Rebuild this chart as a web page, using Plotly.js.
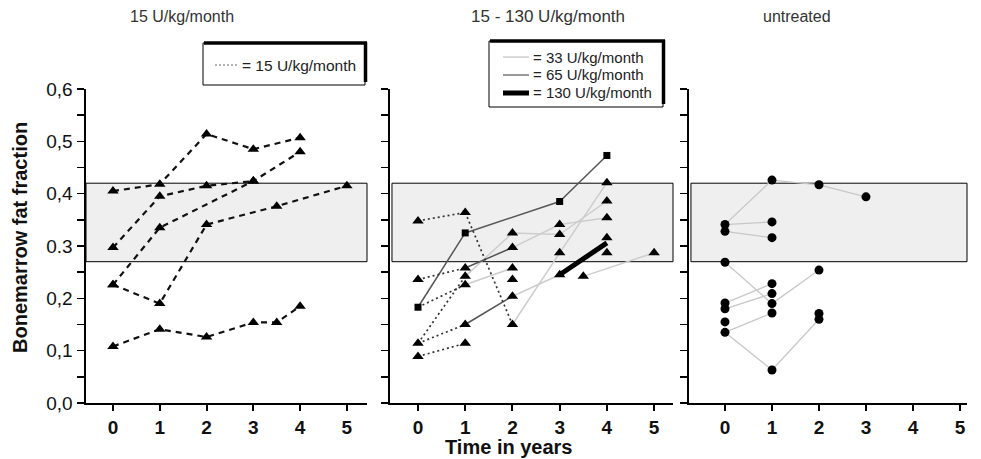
<!DOCTYPE html>
<html>
<head>
<meta charset="utf-8">
<script src="https://cdn.plot.ly/plotly-3.0.1.min.js"></script>
<style>html,body{margin:0;padding:0;background:#fff;}#chart{width:981px;height:459px;}</style>
</head>
<body>
<div id="chart"></div>
<script>
// ---------- DATA ----------
const panelTitles = ["15 U/kg/month", "15 - 130 U/kg/month", "untreated"];
const yTickVals = [0, 0.05, 0.1, 0.15, 0.2, 0.25, 0.3, 0.35, 0.4, 0.45, 0.5, 0.55, 0.6];
const yTickText = ["0,0", "", "0,1", "", "0,2", "", "0.3", "", "0,4", "", "0,5", "", "0,6"];
const xTickVals = [0, 1, 2, 3, 4, 5];
const normalBand = [0.27, 0.42];

// Panel 1: 15 U/kg/month (triangles, dashed)
const p1A_x = [0, 1, 2, 3, 4],        p1A_y = [0.405, 0.418, 0.514, 0.485, 0.507];
const p1B_x = [0, 1, 2, 3],           p1B_y = [0.297, 0.395, 0.415, 0.424];
const p1C_x = [0, 1, 3, 4],           p1C_y = [0.226, 0.335, 0.424, 0.480];
const p1D_x = [0, 1, 2, 3.5, 5],      p1D_y = [0.226, 0.190, 0.341, 0.376, 0.415];
const p1E_x = [0, 1, 2, 3, 3.5, 4],   p1E_y = [0.108, 0.141, 0.126, 0.154, 0.154, 0.185];

// Panel 2: 15 - 130 U/kg/month, dose per segment
const p2P1_x = [0, 1, 2, 3, 4], p2P1_y = [0.348, 0.364, 0.150, 0.287, 0.421], p2P1_dose = [15, 15, 33, 33];
const p2P2_x = [0, 1, 3, 4],    p2P2_y = [0.183, 0.325, 0.385, 0.473],        p2P2_dose = [65, 65, 65];
const p2P3_x = [0, 1, 2, 3, 4], p2P3_y = [0.236, 0.258, 0.297, 0.341, 0.354], p2P3_dose = [15, 65, 33, 33];
const p2P4_x = [0, 1, 2, 3, 4], p2P4_y = [0.114, 0.242, 0.325, 0.322, 0.386], p2P4_dose = [15, 33, 33, 33];
const p2P5_x = [0, 1, 2, 3, 4], p2P5_y = [0.114, 0.150, 0.204, 0.245, 0.306], p2P5_dose = [15, 65, 33, 130];
const p2P6_x = [0, 1],          p2P6_y = [0.089, 0.114],                      p2P6_dose = [15];
const p2P7_x = [0, 1, 2],       p2P7_y = [0.183, 0.226, 0.258],               p2P7_dose = [15, 33];
const p2P8_x = [3.5, 5],        p2P8_y = [0.242, 0.287],                      p2P8_dose = [33];
// Panel 2 markers
const p2Tri_x = [0, 0, 0, 0,  1, 1, 1, 1, 1, 1,  2, 2, 2, 2, 2, 2,  3, 3, 3, 3,  3.5,  4, 4, 4, 4, 4,  5];
const p2Tri_y = [0.348, 0.236, 0.114, 0.089,
                 0.364, 0.258, 0.242, 0.226, 0.150, 0.114,
                 0.325, 0.297, 0.258, 0.236, 0.204, 0.150,
                 0.341, 0.322, 0.287, 0.245,
                 0.242,
                 0.421, 0.386, 0.354, 0.316, 0.287,
                 0.287];
const p2Sq_x = [0, 1, 3, 4], p2Sq_y = [0.183, 0.325, 0.385, 0.473];

// Panel 3: untreated (circles)
const p3U1_x = [0, 1, 2, 3], p3U1_y = [0.341, 0.426, 0.417, 0.394];
const p3U2_x = [0, 1],       p3U2_y = [0.341, 0.346];
const p3U3_x = [0, 1],       p3U3_y = [0.328, 0.316];
const p3U4_x = [0, 1, 2],    p3U4_y = [0.269, 0.190, 0.254];
const p3U5_x = [0, 1],       p3U5_y = [0.191, 0.228];
const p3U6_x = [0, 1],       p3U6_y = [0.180, 0.209];
const p3U7_x = [0, 1],       p3U7_y = [0.135, 0.172];
const p3U8_x = [0, 1, 2],    p3U8_y = [0.135, 0.063, 0.160];
const p3Dot_x = [0, 0, 0, 0, 0, 0, 0,  1, 1, 1, 1, 1, 1, 1, 1,  2, 2, 2, 2,  3];
const p3Dot_y = [0.341, 0.328, 0.269, 0.191, 0.180, 0.155, 0.135,
                 0.426, 0.346, 0.316, 0.228, 0.209, 0.190, 0.172, 0.063,
                 0.417, 0.254, 0.171, 0.160,
                 0.394];

const legend1Labels = ["= 15 U/kg/month"];
const legend2Labels = ["= 33 U/kg/month", "= 65 U/kg/month", "= 130 U/kg/month"];

// ---------- BUILD ----------
const W = 981, H = 459;
const px = v => v / W;
const py = v => 1 - v / H;
const FONT = "Liberation Sans, Arial, sans-serif";

const traces = [];
const tri = {symbol: "triangle-up", size: 10, color: "#000"};

[[p1A_x, p1A_y], [p1B_x, p1B_y], [p1C_x, p1C_y], [p1D_x, p1D_y], [p1E_x, p1E_y]].forEach(s => {
  traces.push({x: s[0], y: s[1], xaxis: "x", yaxis: "y", type: "scatter", mode: "lines+markers",
    line: {color: "#111", width: 2.2, dash: "6px,5px"}, marker: tri, cliponaxis: false});
});

const doseStyle = {
  15:  {color: "#333", width: 1.7, dash: "2px,3px"},
  33:  {color: "#cdcdcd", width: 1.5, dash: "solid"},
  65:  {color: "#555", width: 1.5, dash: "solid"},
  130: {color: "#000", width: 5, dash: "solid"}
};
const segs = {15: {x: [], y: []}, 33: {x: [], y: []}, 65: {x: [], y: []}, 130: {x: [], y: []}};
[[p2P1_x, p2P1_y, p2P1_dose], [p2P2_x, p2P2_y, p2P2_dose], [p2P3_x, p2P3_y, p2P3_dose],
 [p2P4_x, p2P4_y, p2P4_dose], [p2P5_x, p2P5_y, p2P5_dose], [p2P6_x, p2P6_y, p2P6_dose],
 [p2P7_x, p2P7_y, p2P7_dose], [p2P8_x, p2P8_y, p2P8_dose]].forEach(p => {
  for (let i = 0; i < p[2].length; i++) {
    const g = segs[p[2][i]];
    g.x.push(p[0][i], p[0][i + 1], null);
    g.y.push(p[1][i], p[1][i + 1], null);
  }
});
[33, 65, 15, 130].forEach(d => {
  traces.push({x: segs[d].x, y: segs[d].y, xaxis: "x2", yaxis: "y2", type: "scatter", mode: "lines",
    line: doseStyle[d], connectgaps: false});
});
traces.push({x: p2Tri_x, y: p2Tri_y, xaxis: "x2", yaxis: "y2", type: "scatter", mode: "markers", marker: tri});
traces.push({x: p2Sq_x, y: p2Sq_y, xaxis: "x2", yaxis: "y2", type: "scatter", mode: "markers",
  marker: {symbol: "square", size: 7, color: "#000"}});

const p3x = [], p3y = [];
[[p3U1_x, p3U1_y], [p3U2_x, p3U2_y], [p3U3_x, p3U3_y], [p3U4_x, p3U4_y],
 [p3U5_x, p3U5_y], [p3U6_x, p3U6_y], [p3U7_x, p3U7_y], [p3U8_x, p3U8_y]].forEach(s => {
  p3x.push(...s[0], null); p3y.push(...s[1], null);
});
traces.push({x: p3x, y: p3y, xaxis: "x3", yaxis: "y3", type: "scatter", mode: "lines",
  line: {color: "#c8c8c8", width: 1.3}});
traces.push({x: p3Dot_x, y: p3Dot_y, xaxis: "x3", yaxis: "y3", type: "scatter", mode: "markers",
  marker: {symbol: "circle", size: 9, color: "#000"}});

const yDom = [py(403), py(89)];
function xAx(dom, rng, anchor) {
  return {domain: dom, range: rng, anchor: anchor, showgrid: false, zeroline: false,
    showline: true, linecolor: "#000", linewidth: 2, ticks: "outside", ticklen: 6, tickwidth: 2,
    tickcolor: "#000", tickvals: xTickVals, fixedrange: true,
    tickfont: {family: FONT, size: 19, weight: "bold", color: "#111"}};
}
function yAx(anchor, labels) {
  return {domain: yDom, range: [0, 0.6], anchor: anchor, showgrid: false, zeroline: false,
    showline: true, linecolor: "#000", linewidth: 2.5, ticks: "outside", ticklen: 7, tickwidth: 1.5,
    tickcolor: "#000", tickvals: yTickVals, ticktext: yTickText, showticklabels: labels, fixedrange: true,
    tickfont: {family: FONT, size: 19, color: "#111"}};
}

const shapes = [];
["x", "x2", "x3"].forEach((xa, i) => {
  shapes.push({type: "rect", xref: xa + " domain", yref: "y" + (i ? i + 1 : ""),
    x0: i === 0 ? 0 : 0.007, x1: 1, y0: normalBand[0], y1: normalBand[1],
    fillcolor: "#efefef", line: {color: "#000", width: 1}, layer: "below"});
});

// legend boxes
function legendBox(x0, y0, x1, y1) {
  shapes.push({type: "rect", xref: "paper", yref: "paper", x0: px(x0), x1: px(x1), y0: py(y1), y1: py(y0),
    fillcolor: "#fff", line: {color: "#000", width: 1}});
  shapes.push({type: "line", xref: "paper", yref: "paper", x0: px(x0 + 1), x1: px(x1 + 2), y0: py(y0), y1: py(y0),
    line: {color: "#000", width: 3.5}});
  shapes.push({type: "line", xref: "paper", yref: "paper", x0: px(x1 + 0.5), x1: px(x1 + 0.5), y0: py(y0 - 1), y1: py(y1 - 3),
    line: {color: "#000", width: 3.5}});
}
legendBox(203, 43, 365, 85);
legendBox(489, 41, 663, 107);

const annotations = [];
shapes.push({type: "line", xref: "paper", yref: "paper", x0: px(215), x1: px(238), y0: py(65), y1: py(65),
  line: {color: "#999", width: 1.3, dash: "2px,2px"}});
annotations.push({text: legend1Labels[0], xref: "paper", yref: "paper", x: px(240), y: py(65),
  xanchor: "left", yanchor: "middle", showarrow: false, font: {family: FONT, size: 15.5, color: "#222"}});

const leg2Styles = [doseStyle[33], doseStyle[65], doseStyle[130]];
const leg2Y = [57, 75, 93];
legend2Labels.forEach((t, i) => {
  shapes.push({type: "line", xref: "paper", yref: "paper", x0: px(503), x1: px(529), y0: py(leg2Y[i]), y1: py(leg2Y[i]),
    line: {color: leg2Styles[i].color === "#555" ? "#777" : leg2Styles[i].color, width: leg2Styles[i].width}});
  annotations.push({text: t, xref: "paper", yref: "paper", x: px(531), y: py(leg2Y[i]),
    xanchor: "left", yanchor: "middle", showarrow: false, font: {family: FONT, size: 15, color: "#222"}});
});

const titleX = [182, 548, 797];
const titleSize = [16, 17, 16];
panelTitles.forEach((t, i) => {
  annotations.push({text: t, xref: "paper", yref: "paper", x: px(titleX[i]), y: py(17),
    xanchor: "center", yanchor: "middle", showarrow: false, font: {family: FONT, size: titleSize[i], color: "#333"}});
});
annotations.push({text: "Bonemarrow fat fraction", xref: "paper", yref: "paper", x: px(20), y: py(238),
  xanchor: "center", yanchor: "middle", textangle: -90, showarrow: false,
  font: {family: FONT, size: 20, weight: "bold", color: "#111"}});
annotations.push({text: "Time in years", xref: "paper", yref: "paper", x: px(508), y: py(447),
  xanchor: "center", yanchor: "middle", showarrow: false,
  font: {family: FONT, size: 20, weight: "bold", color: "#111"}});

const layout = {
  width: W, height: H, margin: {l: 0, r: 0, t: 0, b: 0},
  paper_bgcolor: "#fff", plot_bgcolor: "rgba(0,0,0,0)", showlegend: false, hovermode: false,
  xaxis: xAx([px(86), px(367)], [-0.577, 5.43], "y"),
  xaxis2: xAx([px(390), px(673)], [-0.593, 5.40], "y2"),
  xaxis3: xAx([px(689), px(967)], [-0.766, 5.15], "y3"),
  yaxis: yAx("x", true),
  yaxis2: yAx("x2", false),
  yaxis3: yAx("x3", false),
  shapes: shapes, annotations: annotations
};
Plotly.newPlot("chart", traces, layout, {staticPlot: true, displayModeBar: false});
</script>
</body>
</html>
